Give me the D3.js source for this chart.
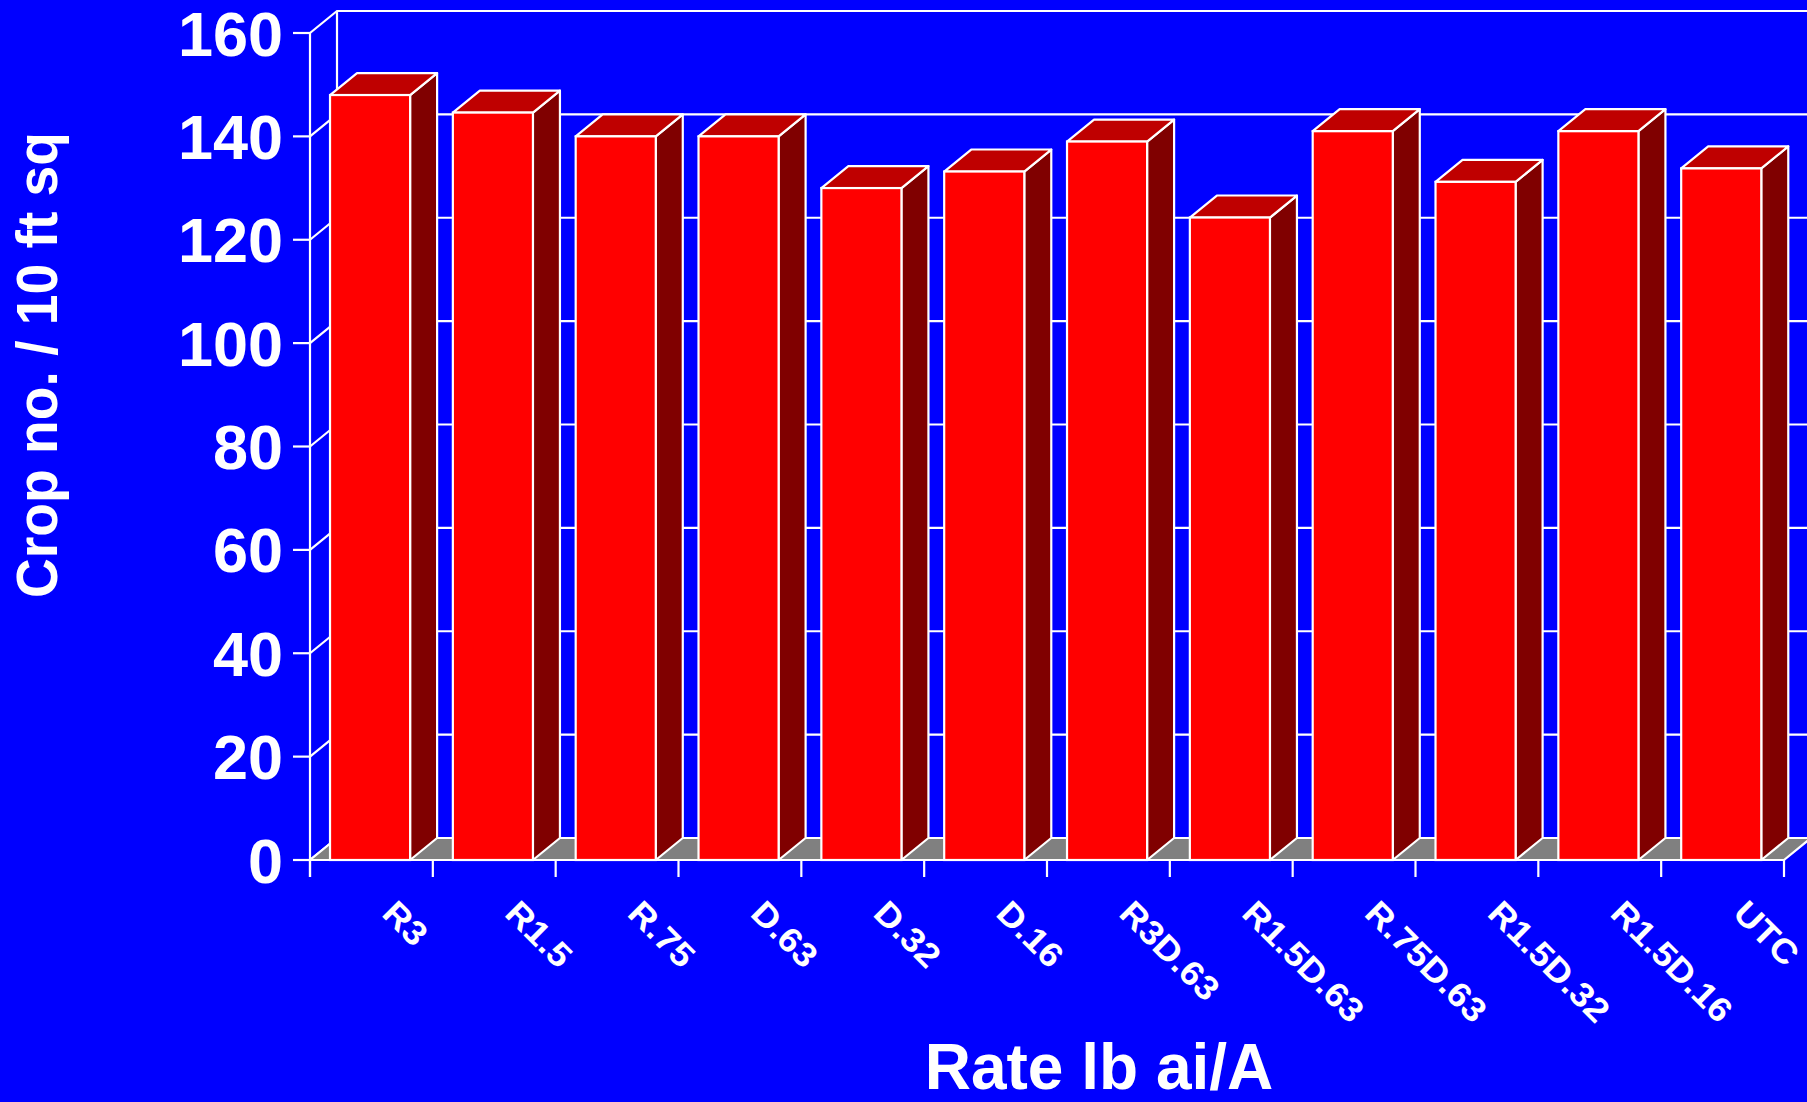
<!DOCTYPE html>
<html>
<head>
<meta charset="utf-8">
<script src="https://cdn.jsdelivr.net/npm/d3@7"></script>
<style>
  html, body { margin: 0; padding: 0; background: #0000FF; }
  svg { display: block; }
  text { font-family: "Liberation Sans", Arial, sans-serif; font-weight: bold; fill: #FFFFFF; }
</style>
</head>
<body>
<svg id="chart" width="1807" height="1102"></svg>
<script>
const categories = ["R3", "R1.5", "R.75", "D.63", "D.32", "D.16", "R3D.63", "R1.5D.63", "R.75D.63", "R1.5D.32", "R1.5D.16", "UTC"];
const values = [148, 144.6, 140, 140, 130, 133.2, 139, 124.3, 141, 131.2, 141, 133.8];
const yTicks = [0, 20, 40, 60, 80, 100, 120, 140, 160];
const yTitle = "Crop no. / 10 ft sq";
const xTitle = "Rate lb ai/A";

const W = 1807, H = 1102;
const dx = 27, dy = 22;
const svg = d3.select("#chart");
svg.append("rect").attr("width", W).attr("height", H).attr("fill", "#0000FF");

const y = d3.scaleLinear().domain([0, 160]).range([860, 33]);
const x = d3.scaleBand().domain(categories).range([310, 1784]).padding(0);
const bw = x.bandwidth();
const x0 = x.range()[0], x1 = x.range()[1];
const line = d3.line();
const white = "#FFFFFF";
const sw = 2.2;

// back wall gridlines
const g = svg.append("g");
g.selectAll(".grid").data(yTicks).join("path")
  .attr("d", d => line([[x0, y(d)], [x0 + dx, y(d) - dy], [x1 + dx + 40, y(d) - dy]]))
  .attr("fill", "none").attr("stroke", white).attr("stroke-width", sw);
// back-left vertical
g.append("path").attr("d", line([[x0 + dx, y(0) - dy], [x0 + dx, y(160) - dy]]))
  .attr("stroke", white).attr("stroke-width", sw).attr("fill", "none");

// floor
g.append("path")
  .attr("d", line([[x0, y(0)], [x1, y(0)], [x1 + dx, y(0) - dy], [x0 + dx, y(0) - dy]]) + "Z")
  .attr("fill", "#808080").attr("stroke", white).attr("stroke-width", sw);

// bars
const bars = svg.append("g").selectAll("g").data(categories).join("g");
bars.each(function (c, i) {
  const sel = d3.select(this);
  const bx = x(c) + bw * 0.163, w = bw * 0.652;
  const top = y(values[i]), bot = y(0);
  sel.append("path")
    .attr("d", line([[bx + w, bot], [bx + w + dx, bot - dy], [bx + w + dx, top - dy], [bx + w, top]]) + "Z")
    .attr("fill", "#800000").attr("stroke", white).attr("stroke-width", sw).attr("stroke-linejoin", "round");
  sel.append("path")
    .attr("d", line([[bx, top], [bx + dx, top - dy], [bx + w + dx, top - dy], [bx + w, top]]) + "Z")
    .attr("fill", "#BF0000").attr("stroke", white).attr("stroke-width", sw).attr("stroke-linejoin", "round");
  sel.append("rect")
    .attr("x", bx).attr("y", top).attr("width", w).attr("height", bot - top)
    .attr("fill", "#FF0000").attr("stroke", white).attr("stroke-width", sw);
});

// front axes
const ax = svg.append("g");
ax.append("path").attr("d", line([[x0, y(160)], [x0, y(0) + 17]]))
  .attr("stroke", white).attr("stroke-width", sw).attr("fill", "none");
ax.append("path").attr("d", line([[x0 - 17, y(0)], [x1, y(0)]]))
  .attr("stroke", white).attr("stroke-width", sw).attr("fill", "none");
ax.selectAll(".yt").data(yTicks).join("path")
  .attr("d", d => line([[x0 - 17, y(d)], [x0, y(d)]]))
  .attr("stroke", white).attr("stroke-width", sw);
ax.selectAll(".yl").data(yTicks).join("text")
  .attr("x", 283).attr("y", d => y(d) + 22.5)
  .attr("text-anchor", "end").attr("font-size", 63)
  .text(d => d);
const bounds = categories.map(c => x(c)).concat([x1]);
ax.selectAll(".xt").data(bounds).join("path")
  .attr("d", d => line([[d, y(0)], [d, y(0) + 17]]))
  .attr("stroke", white).attr("stroke-width", sw);
ax.selectAll(".xl").data(categories).join("text")
  .attr("transform", c => `translate(${x(c) + bw / 2 + 9},915) rotate(45) scale(1.08,1)`)
  .attr("text-anchor", "start").attr("font-size", 34)
  .text(c => c);

// titles
svg.append("text").attr("x", 1099).attr("y", 1089).attr("text-anchor", "middle")
  .attr("font-size", 64).text(xTitle);
svg.append("text").attr("transform", "translate(57,365) rotate(-90)")
  .attr("text-anchor", "middle").attr("font-size", 58)
  .attr("textLength", 466).attr("lengthAdjust", "spacingAndGlyphs")
  .text(yTitle);
</script>
</body>
</html>
